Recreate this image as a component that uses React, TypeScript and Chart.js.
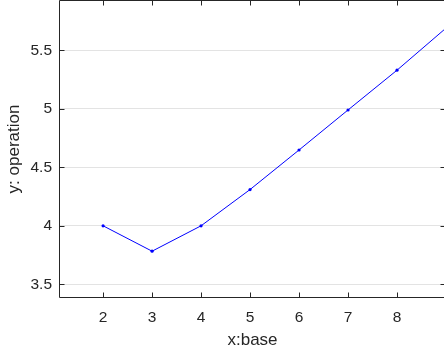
import React, { useEffect, useRef } from "react";
import { Chart, registerables } from "chart.js";

Chart.register(...registerables);

const xValues = [2, 3, 4, 5, 6, 7, 8, 9];
const yValues = [4.0, 3.783, 4.0, 4.31, 4.648, 4.99, 5.33, 5.69];
const xTicks = [2, 3, 4, 5, 6, 7, 8];
const yTicks = [3.5, 4, 4.5, 5, 5.5];
const xLabel = "x:base";
const yLabel = "y: operation";

const X_MIN = 1.1;
const X_MAX = 9.0;
const Y_MIN = 3.383;
const Y_MAX = 5.93;

const FONT = "'Liberation Sans', Arial, Helvetica, sans-serif";
const TEXT = "#262626";
const AXIS = "#262626";
const GRID = "#e3e3e3";
const TICK_LEN = 5;

const framePlugin = {
  id: "frame",
  beforeDatasetsDraw(chart: any) {
    const { ctx, chartArea, scales } = chart;
    const { left, right, top, bottom } = chartArea;
    const xs = scales.x;
    const ys = scales.y;
    ctx.save();
    ctx.strokeStyle = AXIS;
    ctx.lineWidth = 1;
    ctx.beginPath();
    const L = Math.round(left) + 0.5;
    const R = Math.round(right) - 0.5;
    const T = Math.round(top) + 0.5;
    const B = Math.round(bottom) - 0.5;
    ctx.moveTo(L, T);
    ctx.lineTo(R, T);
    ctx.lineTo(R, B);
    ctx.lineTo(L, B);
    ctx.closePath();
    for (const v of xTicks) {
      const px = Math.round(xs.getPixelForValue(v)) + 0.5;
      ctx.moveTo(px, B);
      ctx.lineTo(px, B - TICK_LEN);
      ctx.moveTo(px, T);
      ctx.lineTo(px, T + TICK_LEN);
    }
    for (const v of yTicks) {
      const py = Math.round(ys.getPixelForValue(v)) + 0.5;
      ctx.moveTo(L, py);
      ctx.lineTo(L + TICK_LEN, py);
      ctx.moveTo(R, py);
      ctx.lineTo(R - TICK_LEN, py);
    }
    ctx.stroke();
    ctx.restore();
  },
};

export default function App() {
  const canvasRef = useRef<HTMLCanvasElement | null>(null);

  useEffect(() => {
    const canvas = canvasRef.current;
    if (!canvas) return;
    const chart = new Chart(canvas, {
      type: "line",
      data: {
        datasets: [
          {
            data: xValues.map((x, i) => ({ x, y: yValues[i] })),
            borderColor: "#0000ff",
            backgroundColor: "#0000ff",
            borderWidth: 1,
            pointRadius: 1.6,
            pointHoverRadius: 0,
            pointBorderWidth: 0,
            pointStyle: "circle",
            tension: 0,
          },
        ],
      },
      options: {
        responsive: false,
        animation: false,
        events: [],
        layout: { autoPadding: false, padding: { left: 0, top: 0, right: 1, bottom: 0 } },
        plugins: {
          legend: { display: false },
          tooltip: { enabled: false },
        },
        scales: {
          x: {
            type: "linear",
            min: X_MIN,
            max: X_MAX,
            afterBuildTicks: (s: any) => {
              s.ticks = xTicks.map((v) => ({ value: v }));
            },
            afterFit: (s: any) => {
              s.height = 58;
              s.paddingLeft = 0;
              s.paddingRight = 0;
              s.paddingTop = 0;
              s.paddingBottom = 0;
            },
            grid: { display: false, drawTicks: false },
            border: { display: false },
            ticks: {
              callback: (v: any) => String(v),
              color: TEXT,
              padding: 10,
              maxRotation: 0,
              autoSkip: false,
              font: { family: FONT, size: 15.5 },
            },
            title: {
              display: true,
              text: xLabel,
              color: TEXT,
              font: { family: FONT, size: 17 },
              padding: { top: 0, bottom: 5 },
            },
          },
          y: {
            type: "linear",
            min: Y_MIN,
            max: Y_MAX,
            afterBuildTicks: (s: any) => {
              s.ticks = yTicks.map((v) => ({ value: v }));
            },
            afterFit: (s: any) => {
              s.width = 59;
              s.paddingLeft = 0;
              s.paddingRight = 0;
              s.paddingTop = 0;
              s.paddingBottom = 0;
            },
            grid: { display: true, drawTicks: false, color: GRID, lineWidth: 1 },
            border: { display: false },
            ticks: {
              callback: (v: any) => String(v),
              color: TEXT,
              padding: 7,
              autoSkip: false,
              font: { family: FONT, size: 15.5 },
            },
            title: {
              display: true,
              text: yLabel,
              color: TEXT,
              font: { family: FONT, size: 17 },
              padding: { top: 4, bottom: 0 },
            },
          },
        },
      },
      plugins: [framePlugin],
    });
    return () => chart.destroy();
  }, []);

  return (
    <div
      style={{
        position: "fixed",
        left: 0,
        top: 0,
        width: 444,
        height: 356,
        overflow: "hidden",
        background: "#fff",
      }}
    >
      <canvas ref={canvasRef} width={447} height={356} style={{ display: "block" }} />
    </div>
  );
}
